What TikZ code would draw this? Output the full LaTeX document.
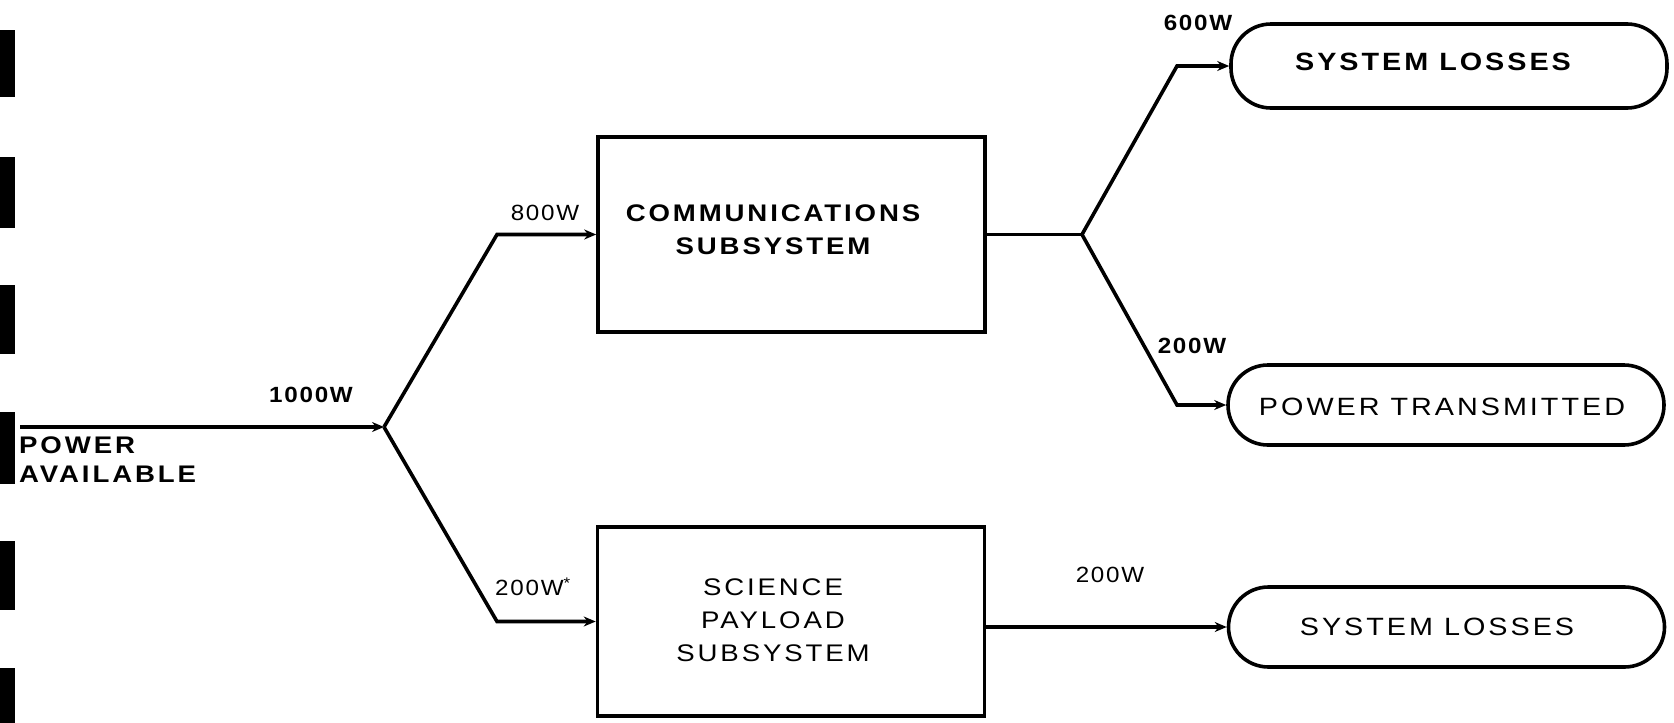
\documentclass[tikz,border=0pt]{standalone}
\usepackage{fontspec}
\setmainfont{Liberation Sans}
\newfontfamily\lblfont[LetterSpace=12,FakeStretch=1.15]{Liberation Sans}
\newfontfamily\wfont[LetterSpace=8,FakeStretch=1.1]{Liberation Sans}
\usetikzlibrary{arrows.meta}
\begin{document}
\begin{tikzpicture}[x=1pt,y=-1pt,
  conn/.style={line width=3.6pt},
  arr/.style={conn,-{Stealth[length=12pt,width=10pt]}},
  blockbox/.style={draw,line width=3.6pt,minimum width=387pt,inner sep=0pt},
  pill/.style={draw,line width=3.6pt,rounded corners=40pt,minimum width=436pt,inner sep=0pt},
  boxtxt/.style={font=\lblfont\fontsize{24}{33}\selectfont,align=center,inner sep=0pt},
  pilltxt/.style={font=\lblfont\fontsize{25}{28}\selectfont,inner sep=0pt},
  wlbl/.style={font=\wfont\fontsize{22}{25}\selectfont,inner sep=0pt},
  wlblb/.style={font=\wfont\bfseries\fontsize{22}{25}\selectfont,inner sep=0pt}
]
\useasboundingbox (0,0) rectangle (1674,723);
% scan edge bars
\fill (0,30) rectangle (15,97);
\fill (0,157) rectangle (15,228);
\fill (0,285) rectangle (15,354);
\fill (0,412) rectangle (15,484);
\fill (0,541) rectangle (15,610);
\fill (0,668) rectangle (15,723);

% blocks
\node[blockbox,minimum height=195pt] (comms) at (791.5,234.5) {};
\node[blockbox,minimum height=189pt] (sci) at (791,621.5) {};
\node[boxtxt,font=\lblfont\bfseries\fontsize{24}{33}\selectfont] (commstxt) at (773,229.5) {COMMUNICATIONS\\SUBSYSTEM};
\node[boxtxt] (scitxt) at (773,620) {SCIENCE\\PAYLOAD\\SUBSYSTEM};

% terminals
\node[pill,minimum height=84pt] (p1) at (1449,66) {};
\node[pill,minimum height=80pt] (p2) at (1446,405) {};
\node[pill,minimum height=80pt] (p3) at (1446.5,627) {};
\node[pilltxt,font=\lblfont\bfseries\fontsize{25}{28}\selectfont] (p1txt) at (1433,62) {SYSTEM LOSSES};
\node[pilltxt] (p2txt) at (1442,407) {POWER TRANSMITTED};
\node[pilltxt] (p3txt) at (1437,627) {SYSTEM LOSSES};

% source text
\node[font=\lblfont\bfseries\fontsize{24}{29}\selectfont,align=left,inner sep=0pt,anchor=west] (src txt) at (19,459.5) {POWER\\AVAILABLE};

% labels
\node[wlblb] (w1000) at (311,395) {1000W};
\node[wlbl] (w800) at (545,213) {800W};
\node[wlbl,anchor=west] (w200s) at (495,587) {200W\textsuperscript{*}};
\node[wlblb] (w600) at (1198,23) {600W};
\node[wlblb] (w200a) at (1192,346) {200W};
\node[wlbl] (w200b) at (1110,575) {200W};

% connector points
\coordinate (src) at (20,427);
\coordinate (j1) at (384,427);
\coordinate (c1) at (497,234.5);
\coordinate (c2) at (497,621.5);
\coordinate (j2) at (1082,234.5);
\coordinate (c3) at (1177,66);
\coordinate (c4) at (1177,405);

\draw[arr] (src) -- (j1);
\draw[arr] (j1) -- (c1) -- (comms.west);
\draw[arr] (j1) -- (c2) -- (sci.west);
\draw[conn] (comms.east) -- (j2);
\draw[arr] (j2) -- (c3) -- (p1.west);
\draw[arr] (j2) -- (c4) -- (p2.west);
\draw[arr] (p3.west -| sci.east) -- (p3.west);
\end{tikzpicture}
\end{document}
